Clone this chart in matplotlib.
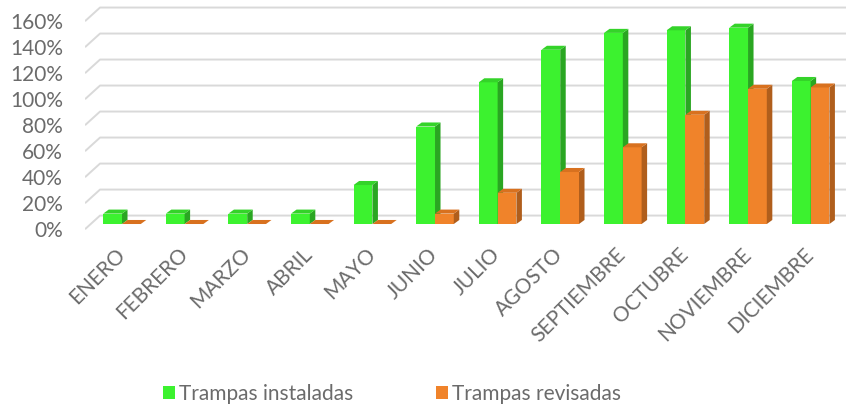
import numpy as np
import matplotlib.pyplot as plt
from matplotlib.patches import Polygon, Patch

plt.rcParams['font.family'] = ['Lato', 'DejaVu Sans']

meses = ["ENERO", "FEBRERO", "MARZO", "ABRIL", "MAYO", "JUNIO", "JULIO",
         "AGOSTO", "SEPTIEMBRE", "OCTUBRE", "NOVIEMBRE", "DICIEMBRE"]
instaladas = [8, 8, 8, 8, 30, 75, 109, 134, 147, 149, 151, 110]
revisadas = [0, 0, 0, 0, 0, 8, 24, 40, 59, 84, 104, 105]
yticks = [0, 20, 40, 60, 80, 100, 120, 140, 160]

# colours: front face, side face, top face
verde = ("#3cf22f", "#2aa622", "#34d329")
naranja = ("#f0832a", "#b05e1c", "#d8711f")
gris_texto = "#6b6b6b"

w = 0.30       # bar width (category units)
dx, dy = 0.088, 3.1   # bar depth offset
wall_dx, front_y, back_y = 0.24, -4, 6.5   # grid wall offsets

W, H = 846, 407
fig = plt.figure(figsize=(W / 100, H / 100), dpi=100)
ax = fig.add_axes([85 / W, (H - 240) / H, (W - 85) / W, 240 / H])
ax.set_xlim(-0.591, 11.565)
ax.set_ylim(-12.3, 172.3)

x_left = -0.591
for v in yticks:
    ax.plot([x_left, x_left + wall_dx, 11.565], [v + front_y, v + back_y, v + back_y],
            color="#d9d9d9", lw=1.4, zorder=1, solid_capstyle="butt")


def caja(ax, x0, ancho, valor, colores):
    front, side, top = colores
    ax.add_patch(Polygon([(x0, 0), (x0 + ancho, 0), (x0 + ancho, valor), (x0, valor)],
                         closed=True, facecolor=front, lw=0, zorder=3))
    ax.add_patch(Polygon([(x0 + ancho, 0), (x0 + ancho + dx, dy), (x0 + ancho + dx, valor + dy),
                          (x0 + ancho, valor)], closed=True, facecolor=side, lw=0, zorder=3))
    ax.add_patch(Polygon([(x0, valor), (x0 + ancho, valor), (x0 + ancho + dx, valor + dy),
                          (x0 + dx, valor + dy)], closed=True, facecolor=top, lw=0, zorder=3))


for i in range(len(meses)):
    caja(ax, i - w, w, instaladas[i], verde)
    caja(ax, i, w, revisadas[i], naranja)

for s in ax.spines.values():
    s.set_visible(False)

ax.set_yticks([v + front_y for v in yticks])
ax.set_yticklabels([f"{v}%" for v in yticks])
ax.set_xticks(range(len(meses)))
ax.set_xticklabels(meses, rotation=45, ha="right", va="center", rotation_mode="anchor")
ax.tick_params(axis="y", length=0, pad=16, labelsize=15, labelcolor=gris_texto)
ax.tick_params(axis="x", length=0, pad=8, labelsize=15, labelcolor=gris_texto)

handles = [Patch(facecolor=verde[0], label="Trampas instaladas"),
           Patch(facecolor=naranja[0], label="Trampas revisadas")]
fig.legend(handles=handles, loc="center", bbox_to_anchor=(392 / W, 13 / H), ncol=2,
           frameon=False, fontsize=15, labelcolor=gris_texto, handlelength=0.55,
           handleheight=0.55, handletextpad=0.2, columnspacing=4.0)

fig.savefig("out.png", dpi=100)
